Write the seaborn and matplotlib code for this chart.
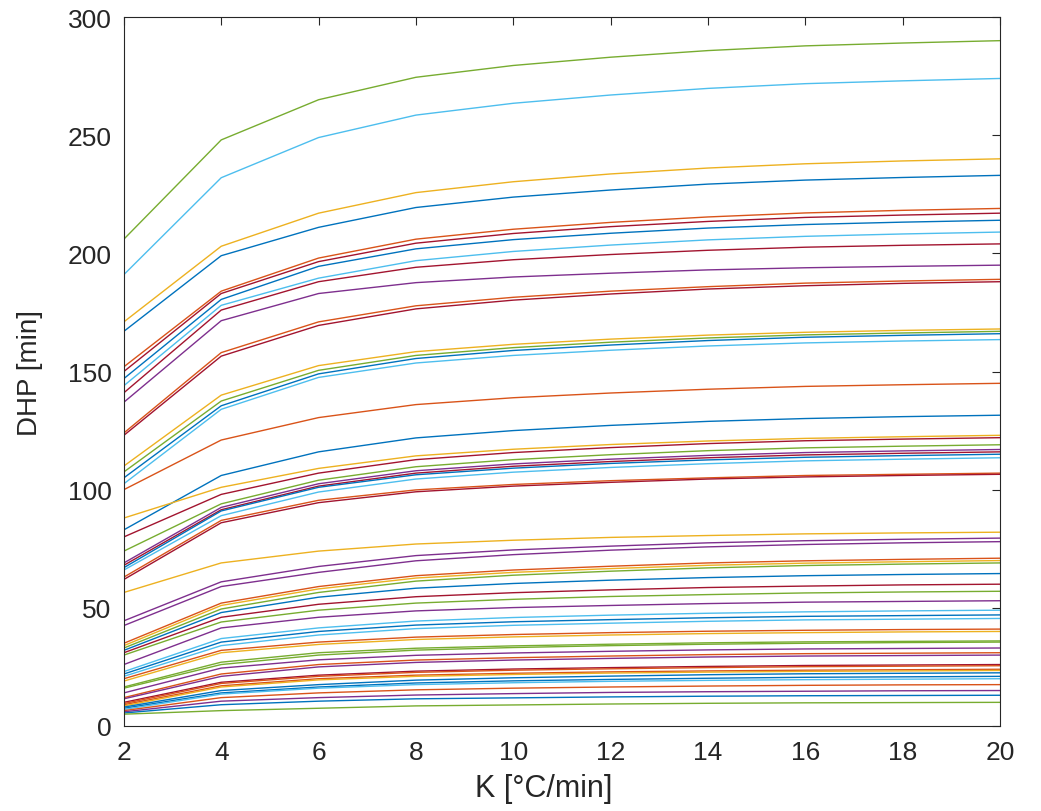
import matplotlib
matplotlib.use("Agg")
import matplotlib.pyplot as plt
import seaborn as sns
import pandas as pd

# Heating rate K [°C/min]
K = [2, 4, 6, 8, 10, 12, 14, 16, 18, 20]

# DHP [min] curves, one row per curve (values at K above)
dhp_series = [
    [206, 248, 265, 274.5, 279.5, 283, 285.8, 287.8, 289, 290],
    [191, 232, 249, 258.5, 263.5, 267, 269.8, 271.8, 273, 274],
    [171, 203, 217, 225.7, 230.3, 233.6, 236.1, 237.9, 239.1, 240],
    [167, 199, 211, 219.4, 223.8, 226.8, 229.3, 231, 232.1, 233],
    [152, 184, 198, 206, 210.2, 213.1, 215.4, 217.1, 218.2, 219],
    [150, 183, 196.5, 204.3, 208.4, 211.3, 213.5, 215.2, 216.2, 217],
    [147, 180.5, 194.5, 201.9, 205.8, 208.5, 210.7, 212.2, 213.2, 214],
    [144, 178, 189.5, 196.9, 200.8, 203.5, 205.7, 207.2, 208.2, 209],
    [141, 176, 188, 194.1, 197.3, 199.5, 201.3, 202.6, 203.4, 204],
    [137, 171.5, 183, 187.6, 190, 191.6, 193, 193.9, 194.5, 195],
    [124, 158, 171, 177.8, 181.4, 184, 185.9, 187.4, 188.3, 189],
    [123, 156.5, 169.5, 176.5, 180.2, 182.8, 184.9, 186.3, 187.3, 188],
    [110, 140, 152.5, 158.4, 161.5, 163.7, 165.4, 166.6, 167.4, 168],
    [107.5, 137.5, 150.5, 156.8, 160.1, 162.4, 164.2, 165.5, 166.3, 167],
    [105, 135.5, 149, 155.5, 158.9, 161.2, 163.1, 164.5, 165.3, 166],
    [102.5, 134, 147.5, 153.6, 156.8, 159, 160.8, 162.1, 162.9, 163.5],
    [100, 121, 130.5, 136, 138.9, 140.9, 142.5, 143.7, 144.4, 145],
    [83, 106, 116, 121.9, 125, 127.2, 128.9, 130.1, 130.9, 131.5],
    [88, 101, 109, 114.3, 117.1, 119.1, 120.6, 121.7, 122.4, 123],
    [80, 98, 107, 112.7, 115.7, 117.8, 119.5, 120.7, 121.4, 122],
    [74, 94, 104, 109.7, 112.7, 114.8, 116.5, 117.7, 118.4, 119],
    [69, 92.5, 102.5, 108, 110.9, 112.9, 114.5, 115.7, 116.4, 117],
    [68, 91.5, 101.5, 107, 109.9, 111.9, 113.5, 114.7, 115.4, 116],
    [67, 91, 101, 106.3, 109.1, 111.1, 112.6, 113.7, 114.4, 115],
    [66, 89, 99, 104.5, 107.4, 109.4, 111, 112.2, 112.9, 113.5],
    [63, 87, 95.5, 99.9, 102.2, 103.8, 105, 106, 106.5, 107],
    [62, 86, 94.5, 99.1, 101.5, 103.1, 104.5, 105.4, 106, 106.5],
    [56.5, 69, 74, 77, 78.6, 79.8, 80.6, 81.3, 81.7, 82],
    [44.5, 61, 67.5, 72.1, 74.5, 76.1, 77.5, 78.4, 79, 79.5],
    [42.5, 59, 65, 69.9, 72.5, 74.4, 75.8, 76.8, 77.5, 78],
    [35, 52, 59, 63.6, 66, 67.6, 69, 69.9, 70.5, 71],
    [34, 51, 58, 62.6, 65, 66.6, 68, 68.9, 69.5, 70],
    [33, 49.5, 56.5, 61.3, 63.8, 65.5, 66.9, 67.9, 68.5, 69],
    [32, 48, 54.5, 58.3, 60.3, 61.7, 62.8, 63.6, 64.1, 64.5],
    [31, 46, 51.5, 54.7, 56.4, 57.6, 58.6, 59.2, 59.7, 60],
    [30, 44, 49, 52, 53.6, 54.8, 55.6, 56.3, 56.7, 57],
    [26, 41.5, 46, 48.7, 50.1, 51, 51.8, 52.4, 52.7, 53],
    [23, 37, 41.5, 44.4, 45.9, 46.9, 47.7, 48.3, 48.7, 49],
    [22, 35.5, 40, 42.7, 44.1, 45, 45.8, 46.4, 46.7, 47],
    [21, 34, 38.5, 41.2, 42.6, 43.5, 44.3, 44.9, 45.2, 45.5],
    [20, 32, 35.5, 37.6, 38.7, 39.5, 40.1, 40.5, 40.8, 41],
    [19, 31, 34.5, 36.6, 37.7, 38.5, 39.1, 39.5, 39.8, 40],
    [16.5, 27, 31, 32.9, 33.9, 34.6, 35.2, 35.6, 35.8, 36],
    [16, 26, 30, 32.1, 33.2, 34, 34.6, 35, 35.3, 35.5],
    [14, 24.5, 28, 29.9, 30.9, 31.6, 32.2, 32.6, 32.8, 33],
    [12, 22, 26, 27.9, 28.9, 29.6, 30.2, 30.6, 30.8, 31],
    [11.5, 21, 25, 26.9, 27.9, 28.6, 29.2, 29.6, 29.8, 30],
    [10, 18.5, 21.5, 23.2, 24.1, 24.7, 25.2, 25.6, 25.8, 26],
    [9.5, 18, 21, 22.7, 23.6, 24.2, 24.7, 25.1, 25.3, 25.5],
    [9, 17, 20, 21.5, 22.3, 22.9, 23.3, 23.6, 23.8, 24],
    [8.5, 16.5, 19.5, 21, 21.8, 22.4, 22.8, 23.1, 23.3, 23.5],
    [8, 15, 17.5, 19.4, 20.4, 21.1, 21.7, 22.1, 22.3, 22.5],
    [7.5, 14, 16.5, 18.2, 19.1, 19.7, 20.2, 20.6, 20.8, 21],
    [7, 13.5, 16, 17.5, 18.3, 18.9, 19.3, 19.6, 19.8, 20],
    [6.5, 12, 14, 15.3, 16, 16.5, 16.9, 17.2, 17.4, 17.5],
    [6, 10.5, 12, 13.1, 13.7, 14.2, 14.5, 14.7, 14.9, 15],
    [5.5, 9, 10.5, 11.5, 11.9, 12.3, 12.6, 12.8, 12.9, 13],
    [5, 6.5, 7.5, 8.5, 8.9, 9.3, 9.6, 9.8, 9.9, 10],
]

# colour code of each curve (MATLAB default line colours)
series_colors = [
    "g", "c", "y", "b", "o", "r", "b", "c", "r", "p",
    "o", "r", "y", "g", "b", "c", "o", "b", "y", "r",
    "g", "p", "r", "b", "c", "o", "r", "y", "p", "p",
    "o", "y", "g", "b", "r", "g", "p", "c", "b", "c",
    "o", "y", "g", "g", "p", "o", "p", "r", "o", "o",
    "y", "b", "b", "c", "o", "p", "b", "g",
]

palette_map = {
    "b": (0.000, 0.447, 0.741),
    "o": (0.850, 0.325, 0.098),
    "y": (0.929, 0.694, 0.125),
    "p": (0.494, 0.184, 0.556),
    "g": (0.466, 0.674, 0.188),
    "c": (0.301, 0.745, 0.933),
    "r": (0.635, 0.078, 0.184),
}

rows = []
for i, series in enumerate(dhp_series):
    for k, v in zip(K, series):
        rows.append({"K": k, "DHP": v, "curve": i})
df = pd.DataFrame(rows)
palette = [palette_map[c] for c in series_colors[: len(dhp_series)]]

sns.set_style("white")
plt.rcParams["font.family"] = ["Liberation Sans", "DejaVu Sans"]

fig = plt.figure(figsize=(10.41, 8.12), dpi=100)
ax = fig.add_axes([0.119, 0.1047, 0.8416, 0.8731])

sns.lineplot(data=df, x="K", y="DHP", hue="curve", palette=palette,
             legend=False, linewidth=1.0, ax=ax, estimator=None, sort=False)

ax.set_xlim(2, 20)
ax.set_ylim(0, 300)
ax.set_xticks(range(2, 21, 2))
ax.set_yticks(range(0, 301, 50))
ax.tick_params(direction="in", length=6, width=0.8, colors="#262626",
               labelsize=19, top=True, right=True, labeltop=False, labelright=False)
ax.tick_params(axis="x", pad=10)
ax.tick_params(axis="y", pad=9)
for side in ax.spines.values():
    side.set_color("#262626")
    side.set_linewidth(0.8)
ax.set_xlabel("K [°C/min]", fontsize=22, color="#262626")
ax.set_ylabel("DHP [min]", fontsize=20, color="#262626")
ax.xaxis.set_label_coords(0.479, -0.066)
ax.yaxis.set_label_coords(-0.092, 0.50)

fig.savefig("out.png", dpi=100)
